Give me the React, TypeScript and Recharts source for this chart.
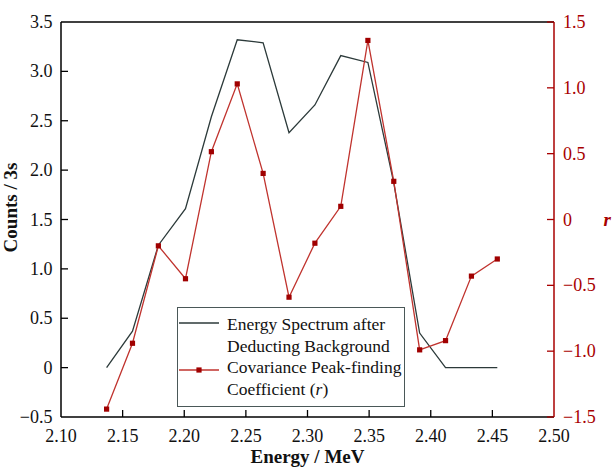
import React from "react";
import { ComposedChart, Line, XAxis, YAxis, ReferenceLine } from "recharts";

const energies = [2.137, 2.158, 2.179, 2.201, 2.222, 2.243, 2.264, 2.285, 2.306, 2.327, 2.349, 2.370, 2.391, 2.412, 2.433, 2.454];
const counts = [0, 0.37, 1.24, 1.61, 2.54, 3.32, 3.29, 2.38, 2.66, 3.16, 3.09, 1.87, 0.35, 0, 0, 0];
const rValues = [-1.44, -0.94, -0.2, -0.45, 0.515, 1.03, 0.35, -0.59, -0.18, 0.1, 1.36, 0.29, -0.99, -0.92, -0.43, -0.3];

const xTicks = [2.1, 2.15, 2.2, 2.25, 2.3, 2.35, 2.4, 2.45, 2.5];
const leftTicks = [-0.5, 0, 0.5, 1, 1.5, 2, 2.5, 3, 3.5];
const rightTicks = [-1.5, -1, -0.5, 0, 0.5, 1, 1.5];

const seriesNames = ["Energy Spectrum after", "Deducting Background", "Covariance Peak-finding", "Coefficient ("];

const FONT = "Liberation Serif, Times New Roman, DejaVu Serif, serif";
const BLACK = "#2c3a3a";
const RED_LINE = "#c0332e";
const RED_MARK = "#a00000";
const RED_AXIS = "#a80000";

const data = energies.map((e, i) => ({ energy: e, counts: counts[i], r: rValues[i] }));

const fmtY = (v: number) => (v === 0 ? "0" : v.toFixed(1).replace("-", "\u2212"));

const txtStyle = { fontFamily: FONT };

const BottomTick = (props: any) => {
  const { x, y, payload } = props;
  const v = payload.value as number;
  const isEnd = Math.abs(v - 2.1) < 1e-6 || Math.abs(v - 2.5) < 1e-6;
  return (
    <g>
      {!isEnd && <line x1={x} x2={x} y1={y} y2={y - 7} stroke="#000" strokeWidth={1.3} />}
      <text x={x} y={y + 25} textAnchor="middle" fontSize={18} style={txtStyle} fill="#111">
        {v.toFixed(2)}
      </text>
    </g>
  );
};

const LeftTick = (props: any) => {
  const { x, y, payload } = props;
  const v = payload.value as number;
  const isEnd = Math.abs(v - 3.5) < 1e-6 || Math.abs(v + 0.5) < 1e-6;
  return (
    <g>
      {!isEnd && <line x1={x} x2={x + 7} y1={y} y2={y} stroke="#000" strokeWidth={1.3} />}
      <text x={x - 8.5} y={y + 6} textAnchor="end" fontSize={18} style={txtStyle} fill="#111">
        {fmtY(v)}
      </text>
    </g>
  );
};

const RightTick = (props: any) => {
  const { x, y, payload } = props;
  const v = payload.value as number;
  return (
    <g>
      <line x1={x} x2={x - 7} y1={y} y2={y} stroke={RED_AXIS} strokeWidth={1.3} />
      <text x={x + 9} y={y + 6} textAnchor="start" fontSize={18} style={txtStyle} fill={RED_AXIS}>
        {fmtY(v)}
      </text>
    </g>
  );
};

const SquareDot = (props: any) => {
  const { cx, cy } = props;
  if (cx == null || cy == null) return null;
  return <rect x={cx - 2.6} y={cy - 2.6} width={5.2} height={5.2} fill={RED_MARK} />;
};

const LegendBox = () => (
  <div style={{ position: "absolute", left: 177, top: 307, width: 228, height: 100 }}>
    <svg width={228} height={100} style={{ display: "block" }}>
      <rect x={0.5} y={0.5} width={227} height={99} fill="#fff" stroke="#4a5858" strokeWidth={1} />
      <line x1={2} x2={42} y1={16} y2={16} stroke={BLACK} strokeWidth={1.3} />
      <line x1={2} x2={42} y1={63} y2={63} stroke={RED_LINE} strokeWidth={1.3} />
      <rect x={19.4} y={60.4} width={5.2} height={5.2} fill={RED_MARK} />
      <text fontSize={17.5} style={txtStyle} fill="#111">
        <tspan x={50} y={22.5}>{seriesNames[0]}</tspan>
        <tspan x={50} y={44.5}>{seriesNames[1]}</tspan>
        <tspan x={50} y={66}>{seriesNames[2]}</tspan>
        <tspan x={50} y={87.5}>
          {seriesNames[3]}
          <tspan fontStyle="italic">r</tspan>)
        </tspan>
      </text>
    </svg>
  </div>
);

export default function App() {
  return (
    <div style={{ position: "absolute", left: 0, top: 0, width: 615, height: 467, background: "#fff", fontFamily: FONT }}>
      <ComposedChart width={615} height={467} data={data} margin={{ top: 22, right: 0, bottom: 0, left: 0 }}>
        <XAxis
          dataKey="energy"
          type="number"
          domain={[2.1, 2.5]}
          ticks={xTicks}
          interval={0}
          height={50}
          tickSize={0}
          tickMargin={0}
          tickLine={false}
          axisLine={{ stroke: "#000", strokeWidth: 1.5 }}
          tick={<BottomTick />}
          label={{ value: "Energy / MeV", position: "insideBottom", offset: 4, fontSize: 19, fontWeight: "bold", fontFamily: FONT, fill: "#111" }}
        />
        <YAxis
          yAxisId="left"
          orientation="left"
          type="number"
          domain={[-0.5, 3.5]}
          ticks={leftTicks}
          interval={0}
          width={61}
          tickSize={0}
          tickMargin={0}
          tickLine={false}
          axisLine={{ stroke: "#000", strokeWidth: 1.5 }}
          tick={<LeftTick />}
          label={{ value: "Counts / 3s", angle: -90, position: "insideLeft", offset: 10, dy: -12, fontSize: 19, fontWeight: "bold", fontFamily: FONT, fill: "#111", style: { textAnchor: "middle" } }}
        />
        <YAxis
          yAxisId="right"
          orientation="right"
          type="number"
          domain={[-1.5, 1.5]}
          ticks={rightTicks}
          interval={0}
          width={61}
          tickSize={0}
          tickMargin={0}
          tickLine={false}
          axisLine={{ stroke: RED_AXIS, strokeWidth: 1.5 }}
          tick={<RightTick />}
          label={{ value: "r", position: "insideRight", offset: 4, fontSize: 19, fontWeight: "bold", fontStyle: "italic", fontFamily: FONT, fill: RED_AXIS }}
        />
        <ReferenceLine yAxisId="left" y={3.5} stroke="#000" strokeWidth={1.5} />
        <Line
          yAxisId="left"
          type="linear"
          dataKey="counts"
          stroke={BLACK}
          strokeWidth={1.3}
          dot={false}
          activeDot={false}
          isAnimationActive={false}
        />
        <Line
          yAxisId="right"
          type="linear"
          dataKey="r"
          stroke={RED_LINE}
          strokeWidth={1.3}
          dot={<SquareDot />}
          activeDot={false}
          isAnimationActive={false}
        />
      </ComposedChart>
      <LegendBox />
    </div>
  );
}
